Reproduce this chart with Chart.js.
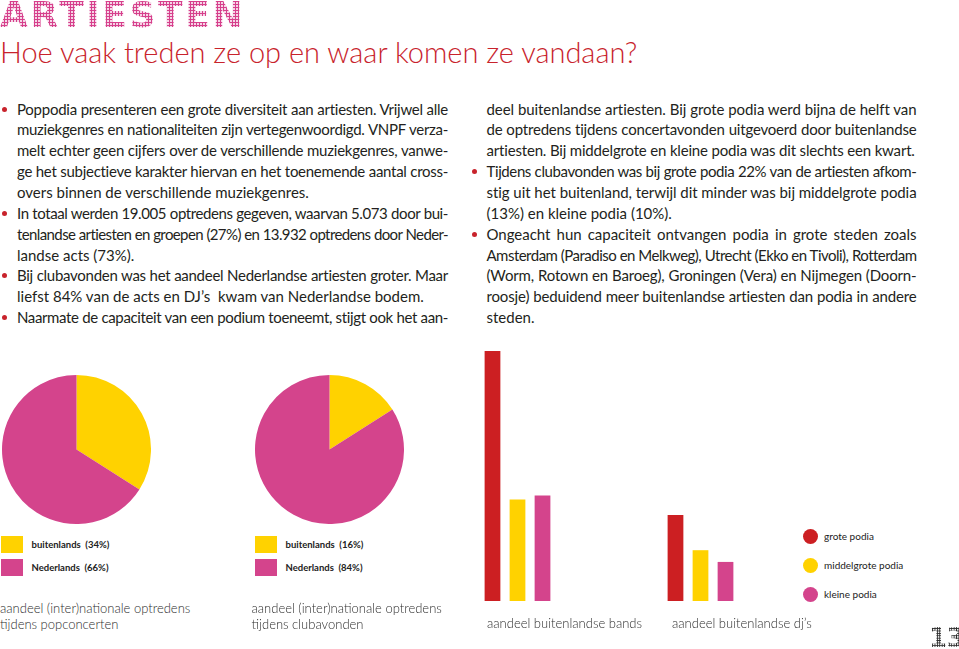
<!DOCTYPE html>
<html>
<head>
<meta charset="utf-8">
<script src="https://cdn.jsdelivr.net/npm/chart.js"></script>
<style>
  body { margin: 0; width: 959px; height: 649px; position: relative; overflow: hidden; background: #fff;
         font-family: Lato, "Open Sans", sans-serif; color: #231f20; }
  .abs { position: absolute; }
  .dots { font-weight: bold; white-space: nowrap; color: transparent; }
  #title { left: 0; top: -3.5px; font-family: "DejaVu Sans", sans-serif; font-size: 36px; line-height: 36px; letter-spacing: 2.6px;
           background-image: radial-gradient(circle, #d6408c 1.1px, rgba(214,64,140,0) 1.5px);
           background-size: 3px 3px; -webkit-background-clip: text; background-clip: text; }
  #pagenr { left: 929px; top: 625px; font-family: "DejaVu Sans", sans-serif; font-size: 26px; line-height: 26px; letter-spacing: -0.5px;
            background-image: radial-gradient(circle, #2a2a2a 0.8px, rgba(42,42,42,0) 1.15px);
            background-size: 2.4px 2.4px; -webkit-background-clip: text; background-clip: text; }
  #subtitle { left: 0; top: 37px; font-size: 29px; line-height: 29px; font-weight: 300; color: #c8232c; white-space: nowrap; }
  .col { top: 98.6px; width: 431px; font-size: 15px; line-height: 20.85px; }
  .ln { position: relative; }
  .j { text-align: justify; text-align-last: justify; }
  .bul::before { content: ""; position: absolute; left: -15px; top: 8px; width: 5px; height: 5px; border-radius: 50%; background: #c8232c; }
  .cap { font-size: 13px; line-height: 15.5px; font-weight: 300; color: #2e2e2e; white-space: nowrap; }
  .sq { width: 22px; height: 17px; }
  .lg { font-size: 9.5px; line-height: 17px; font-weight: bold; color: #222; white-space: nowrap; }
  .dot { width: 15px; height: 15px; border-radius: 50%; }
</style>
</head>
<body>
<div id="title" class="abs dots">ARTIESTEN</div>
<div id="subtitle" class="abs">Hoe vaak treden ze op en waar komen ze vandaan?</div>

<div class="abs col" style="left:17px">
  <div class="ln j bul">Poppodia presenteren een grote diversiteit aan artiesten. Vrijwel alle</div>
  <div class="ln j">muziekgenres en nationaliteiten zijn vertegenwoordigd. VNPF verza-</div>
  <div class="ln j">melt echter geen cijfers over de verschillende muziekgenres, vanwe-</div>
  <div class="ln j">ge het subjectieve karakter hiervan en het toenemende aantal cross-</div>
  <div class="ln">overs binnen de verschillende muziekgenres.</div>
  <div class="ln j bul">In totaal werden 19.005 optredens gegeven, waarvan 5.073 door bui-</div>
  <div class="ln j">tenlandse artiesten en groepen (27%) en 13.932 optredens door Neder-</div>
  <div class="ln">landse acts (73%).</div>
  <div class="ln j bul">Bij clubavonden was het aandeel Nederlandse artiesten groter. Maar</div>
  <div class="ln">liefst 84% van de acts en DJ’s&nbsp; kwam van Nederlandse bodem.</div>
  <div class="ln j bul">Naarmate de capaciteit van een podium toeneemt, stijgt ook het aan-</div>
</div>

<div class="abs col" style="left:486.5px;width:430px">
  <div class="ln j">deel buitenlandse artiesten. Bij grote podia werd bijna de helft van</div>
  <div class="ln j">de optredens tijdens concertavonden uitgevoerd door buitenlandse</div>
  <div class="ln">artiesten. Bij middelgrote en kleine podia was dit slechts een kwart.</div>
  <div class="ln j bul">Tijdens clubavonden was bij grote podia 22% van de artiesten afkom-</div>
  <div class="ln j">stig uit het buitenland, terwijl dit minder was bij middelgrote podia</div>
  <div class="ln">(13%) en kleine podia (10%).</div>
  <div class="ln j bul">Ongeacht hun capaciteit ontvangen podia in grote steden zoals</div>
  <div class="ln j">Amsterdam (Paradiso en Melkweg), Utrecht (Ekko en Tivoli), Rotterdam</div>
  <div class="ln j">(Worm, Rotown en Baroeg), Groningen (Vera) en Nijmegen (Doorn-</div>
  <div class="ln j">roosje) beduidend meer buitenlandse artiesten dan podia in andere</div>
  <div class="ln">steden.</div>
</div>

<canvas id="pie1" class="abs" width="149" height="149" style="left:2px;top:375px"></canvas>
<canvas id="pie2" class="abs" width="149" height="149" style="left:254.5px;top:374.5px"></canvas>
<canvas id="bars" class="abs" width="366" height="254" style="left:426px;top:347px"></canvas>

<div id="legend1"></div>
<div id="legend2"></div>
<div id="legend3"></div>

<div class="abs cap" style="left:0;top:601px">aandeel (inter)nationale optredens<br>tijdens popconcerten</div>
<div class="abs cap" style="left:251.5px;top:601px">aandeel (inter)nationale optredens<br>tijdens clubavonden</div>
<div id="barcaps"></div>

<div id="pagenr" class="abs dots">13</div>

<script>
// data
const pieLabels = ['buitenlands', 'Nederlands'];
const popconcerten = [34, 66];
const clubavonden = [16, 84];

const barLabels = ['aandeel buitenlandse bands', 'aandeel buitenlandse dj’s'];
const podia = ['grote podia', 'middelgrote podia', 'kleine podia'];
const grotePodia = [64, 22];
const middelgrotePodia = [26, 13];
const kleinePodia = [27, 10];

const red = '#cc1f22';
const yellow = '#ffd200';
const pink = '#d4448c';

// tekst regels passend maken
document.querySelectorAll('.col').forEach(function (col) {
    const w = col.clientWidth;
    col.querySelectorAll('.ln').forEach(function (ln) {
        ln.style.whiteSpace = 'nowrap';
        const r = document.createRange();
        r.selectNodeContents(ln);
        const nat = r.getBoundingClientRect().width;
        if (nat > w - 1) {
            ln.style.letterSpacing = ((w - 1.5 - nat) / ln.textContent.length) + 'px';
        }
        ln.style.whiteSpace = '';
    });
});

// pies
function makePie(id, values) {
    return new Chart(document.getElementById(id), {
        type: 'pie',
        data: {
            labels: pieLabels,
            datasets: [{ data: values, backgroundColor: [yellow, pink], borderWidth: 0 }]
        },
        options: {
            responsive: false,
            animation: false,
            plugins: { legend: { display: false }, tooltip: { enabled: false } }
        }
    });
}
makePie('pie1', popconcerten);
makePie('pie2', clubavonden);

function pieLegend(elId, left, values) {
    let html = '';
    pieLabels.forEach(function (lab, i) {
        const top = 536 + i * 22.7;
        html += '<div class="abs sq" style="left:' + left + 'px;top:' + top + 'px;background:' + [yellow, pink][i] + '"></div>';
        html += '<div class="abs lg" style="left:' + (left + 30.5) + 'px;top:' + top + 'px">' + lab + '&nbsp; (' + values[i] + '%)</div>';
    });
    document.getElementById(elId).innerHTML = html;
}
pieLegend('legend1', 1, popconcerten);
pieLegend('legend2', 255, clubavonden);

// bars
const barColors = [red, yellow, pink];
const barData = [grotePodia, middelgrotePodia, kleinePodia];
new Chart(document.getElementById('bars'), {
    type: 'bar',
    data: {
        labels: barLabels,
        datasets: podia.map(function (p, i) {
            return {
                label: p,
                data: barData[i],
                backgroundColor: barColors[i],
                borderWidth: 0,
                categoryPercentage: 0.41,
                barPercentage: 0.63
            };
        })
    },
    options: {
        responsive: false,
        animation: false,
        scales: {
            x: { display: false },
            y: { display: false, min: 0, max: 65 }
        },
        plugins: { legend: { display: false }, tooltip: { enabled: false } }
    }
});

let lg = '';
podia.forEach(function (p, i) {
    const cy = 536.7 + i * 28.65;
    lg += '<div class="abs dot" style="left:802.5px;top:' + (cy - 7.5) + 'px;background:' + barColors[i] + '"></div>';
    lg += '<div class="abs lg" style="left:824px;top:' + (cy - 8.5) + 'px;font-weight:normal;font-size:10px">' + p + '</div>';
});
document.getElementById('legend3').innerHTML = lg;

let caps = '';
barLabels.forEach(function (b, i) {
    caps += '<div class="abs cap" style="left:' + [487, 672][i] + 'px;top:615.5px">' + b + '</div>';
});
document.getElementById('barcaps').innerHTML = caps;
</script>
</body>
</html>
